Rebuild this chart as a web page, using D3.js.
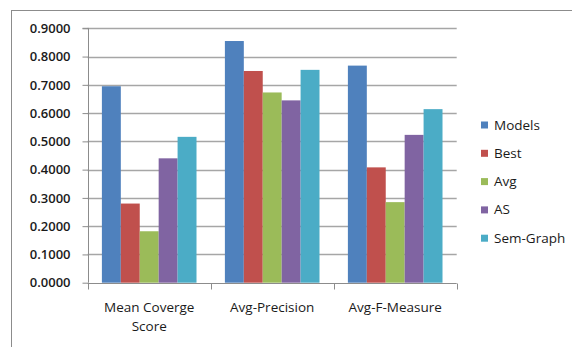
<!DOCTYPE html>
<html><head><meta charset="utf-8">
<script src="https://cdn.jsdelivr.net/npm/d3@7"></script>
<style>body{margin:0;background:#fff}svg{display:block}</style>
</head><body>
<script>
const categories = ["Mean Coverge Score", "Avg-Precision", "Avg-F-Measure"];
const seriesNames = ["Models", "Best", "Avg", "AS", "Sem-Graph"];
const models   = [0.695, 0.855, 0.768];
const best     = [0.280, 0.749, 0.408];
const avg      = [0.182, 0.673, 0.285];
const as       = [0.440, 0.645, 0.523];
const semGraph = [0.516, 0.753, 0.614];
const yTicks = [0, 0.1, 0.2, 0.3, 0.4, 0.5, 0.6, 0.7, 0.8, 0.9];
const colors = ["#4F81BD", "#C0504D", "#9BBB59", "#8064A2", "#4BACC6"];
const values = [models, best, avg, as, semGraph];

(function(){
const W = 572, H = 347;
const svg = d3.select("body").append("svg").attr("width", W).attr("height", H);
const font = "'Open Sans', sans-serif";

svg.append("rect").attr("x", 11.5).attr("y", 10.5).attr("width", 700).attr("height", 500)
  .attr("fill", "none").attr("stroke", "#8c8c8c").attr("stroke-width", 1);

const pL = 87.7, pR = 456.7, pT = 28.3, pB = 282.7;
const y = d3.scaleLinear().domain([0, 0.9]).range([pB, pT]);
const x0 = d3.scaleBand().domain(categories).range([pL, pR]).padding(0);
const bw = x0.bandwidth();
// 150% gap width: band = 6.5 bar widths, 0.75 bar width each side
const x1 = d3.scaleBand().domain(seriesNames).range([bw*0.75/6.5, bw*(1-0.75/6.5)]).padding(0);

// gridlines
svg.append("g").selectAll("line").data(yTicks.filter(d => d > 0)).join("line")
  .attr("x1", pL).attr("x2", pR)
  .attr("y1", d => Math.round(y(d)) + 0.5).attr("y2", d => Math.round(y(d)) + 0.5)
  .attr("stroke", "#a6a6a6").attr("stroke-width", 1.3);

// bars
const g = svg.append("g");
categories.forEach((c, ci) => {
  seriesNames.forEach((s, si) => {
    const v = values[si][ci];
    g.append("rect")
      .attr("x", x0(c) + x1(s)).attr("width", x1.bandwidth())
      .attr("y", y(v)).attr("height", y(0) - y(v))
      .attr("fill", colors[si]);
  });
});

// y axis
const yAxis = d3.axisLeft(y).tickValues(yTicks).tickFormat(d3.format(".4f")).tickSize(6).tickPadding(12);
const ya = svg.append("g").attr("transform", `translate(${Math.round(pL)+0.5},0)`).call(yAxis);
ya.select(".domain").attr("stroke", "#8c8c8c").attr("d", `M-6,${pT}H0V${pB}`);
ya.selectAll(".tick line").attr("stroke", "#8c8c8c");
ya.selectAll(".tick text").attr("font-family", font).attr("font-size", 13).attr("font-weight", 600).attr("fill", "#1a1a1a");

// x axis
const xa = svg.append("g").attr("transform", `translate(0,${Math.round(pB)+0.5})`);
xa.append("line").attr("x1", pL).attr("x2", pR).attr("stroke", "#8c8c8c");
const bounds = [pL, pL + bw, pL + 2*bw, pR];
xa.selectAll(".tk").data(bounds).join("line").attr("class", "tk")
  .attr("x1", d => Math.round(d)+0.5).attr("x2", d => Math.round(d)+0.5).attr("y1", 0).attr("y2", 6)
  .attr("stroke", "#8c8c8c");

const labelLines = {"Mean Coverge Score": ["Mean Coverge", "Score"]};
categories.forEach(c => {
  const lines = labelLines[c] || [c];
  lines.forEach((t, i) => {
    svg.append("text").attr("x", x0(c) + bw/2).attr("y", 312 + i*19)
      .attr("text-anchor", "middle").attr("font-family", font).attr("font-size", 13.5)
      .attr("fill", "#1a1a1a").text(t);
  });
});

// legend
const lg = svg.append("g");
seriesNames.forEach((s, i) => {
  const cy = 125 + i * 28.3;
  lg.append("rect").attr("x", 481).attr("y", cy - 3.5).attr("width", 7).attr("height", 7).attr("fill", colors[i]);
  lg.append("text").attr("x", 494).attr("y", cy + 4.5).attr("font-family", font).attr("font-size", 13.5)
    .attr("fill", "#1a1a1a").text(s);
});
})();
</script>
</body></html>
